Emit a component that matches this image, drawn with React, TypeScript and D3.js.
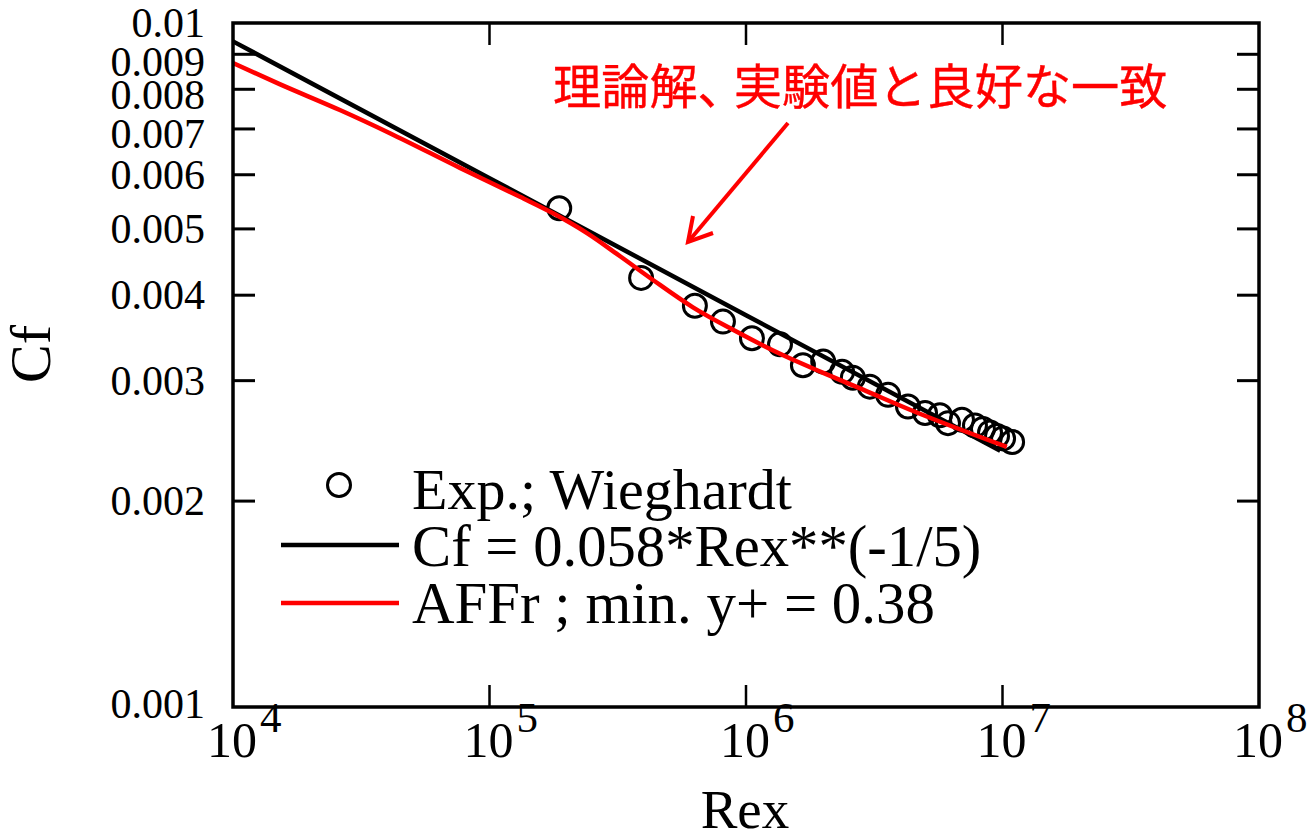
import React from "react";
import * as d3 from "d3";

const W = 1309, H = 836;
const yTicks = [0.01, 0.009, 0.008, 0.007, 0.006, 0.005, 0.004, 0.003, 0.002, 0.001];
const yTickLabels = ["0.01", "0.009", "0.008", "0.007", "0.006", "0.005", "0.004", "0.003", "0.002", "0.001"];
const yLabelNudge = [14, 22, 20, 19, 14, 14, 14, 14, 14, 11];
const xExponents = [4, 5, 6, 7, 8];

const expRex = [1.87e5, 3.9e5, 6.32e5, 8.13e5, 1.055e6, 1.357e6, 1.667e6, 2.0e6, 2.37e6, 2.61e6, 3.04e6, 3.58e6, 4.28e6, 4.99e6, 5.7e6, 6.13e6, 6.95e6, 7.81e6, 8.39e6, 8.94e6, 9.52e6, 1.005e7, 1.09e7];
const expCf = [0.00536, 0.00424, 0.00386, 0.00366, 0.00346, 0.00339, 0.00316, 0.0032, 0.00309, 0.00303, 0.00294, 0.00286, 0.00275, 0.00269, 0.00267, 0.0026, 0.00263, 0.00258, 0.00255, 0.00252, 0.00249, 0.00247, 0.00244];

const theoryRex = [1e4, 1e5, 1e6, 9.8e6];
const theoryCf = [0.0094, 0.00593, 0.00374, 0.00237];

const affrRex = [1e4, 1.52e4, 2.61e4, 4.09e4, 7.67e4, 1.315e5, 1.77e5, 2.4e5, 3.23e5, 4.34e5, 6.21e5, 8.9e5, 1.39e6, 2.0e6, 2.86e6, 4.36e6, 1.04e7];
const affrCf = [0.00874, 0.00814, 0.00746, 0.0069, 0.00614, 0.00557, 0.00527, 0.00493, 0.00456, 0.00421, 0.00384, 0.00356, 0.00327, 0.00308, 0.00291, 0.00272, 0.0024];

const legendLabels = ["Exp.; Wieghardt", "Cf = 0.058*Rex**(-1/5)", "AFFr ; min. y+ = 0.38"];
const annotation = "理論解、実験値と良好な一致";

const x = d3.scaleLog().domain([1e4, 1e8]).range([233, 1259]);
const y = d3.scaleLog().domain([0.001, 0.01]).range([707, 23]);
const line = (xs: number[], ys: number[], curve: d3.CurveFactory = d3.curveLinear) =>
  d3.line<number>().curve(curve).x((d) => x(d)).y((_, i) => y(ys[i]))(xs) as string;

const serif = "'Liberation Serif', serif";

export default function App() {
  return (
    <svg width={W} height={H} style={{ position: "absolute", left: 0, top: 0, background: "#fff" }} fontFamily={serif}>
      {/* ticks */}
      {yTicks.slice(1, -1).map((t) => (
        <g key={t} stroke="#000" strokeWidth={3}>
          <line x1={233} x2={255} y1={y(t)} y2={y(t)} />
          <line x1={1237} x2={1259} y1={y(t)} y2={y(t)} />
        </g>
      ))}
      {xExponents.slice(1, -1).map((e) => (
        <g key={e} stroke="#000" strokeWidth={2.5}>
          <line x1={x(10 ** e)} x2={x(10 ** e)} y1={707} y2={685} />
          <line x1={x(10 ** e)} x2={x(10 ** e)} y1={23} y2={45} />
        </g>
      ))}
      {/* series */}
      {expRex.map((r, i) => (
        <circle key={i} cx={x(r)} cy={y(expCf[i])} r={11.5} fill="none" stroke="#000" strokeWidth={3} />
      ))}
      <path d={line(theoryRex, theoryCf)} fill="none" stroke="#000" strokeWidth={4.5} />
      <path d={line(affrRex, affrCf, d3.curveMonotoneX)} fill="none" stroke="#f00" strokeWidth={4.5} />
      {/* frame */}
      <rect x={233} y={23} width={1026} height={684} fill="none" stroke="#000" strokeWidth={3.5} />
      {/* y labels */}
      {yTicks.map((t, i) => (
        <text key={t} x={205} y={y(t) + yLabelNudge[i]} textAnchor="end" fontSize={42} fill="#000">{yTickLabels[i]}</text>
      ))}
      {/* x labels */}
      {xExponents.map((e) => (
        <text key={e} x={x(10 ** e) - 26} y={757} fontSize={50} fill="#000">
          10<tspan dy={-25} dx={3} fontSize={43}>{e}</tspan>
        </text>
      ))}
      <text x={745} y={828} textAnchor="middle" fontSize={55} fill="#000">Rex</text>
      <text transform="translate(50,354) rotate(-90)" textAnchor="middle" fontSize={58} fill="#000">Cf</text>
      {/* legend */}
      <circle cx={339} cy={485} r={11.5} fill="none" stroke="#000" strokeWidth={3} />
      <line x1={281} x2={399} y1={545} y2={545} stroke="#000" strokeWidth={4.5} />
      <line x1={281} x2={399} y1={603} y2={603} stroke="#f00" strokeWidth={4.5} />
      <text x={412} y={509} fontSize={58} fill="#000">{legendLabels[0]}</text>
      <text x={412} y={566} fontSize={58.7} fill="#000">{legendLabels[1]}</text>
      <text x={412} y={623} fontSize={58.9} fill="#000">{legendLabels[2]}</text>
      {/* annotation */}
      <text x={553} y={104} fontSize={48.2} fill="#f00" stroke="#f00" strokeWidth={0.4} fontFamily="'Noto Sans CJK JP'">
        {annotation.slice(0, 4)}
        <tspan dx={-12}>{annotation.slice(4)}</tspan>
      </text>
      <g stroke="#f00" strokeWidth={4} fill="none">
        <line x1={788} y1={123} x2={688} y2={242} />
        <polyline points="693,216 688,242 713,233" />
      </g>
    </svg>
  );
}
